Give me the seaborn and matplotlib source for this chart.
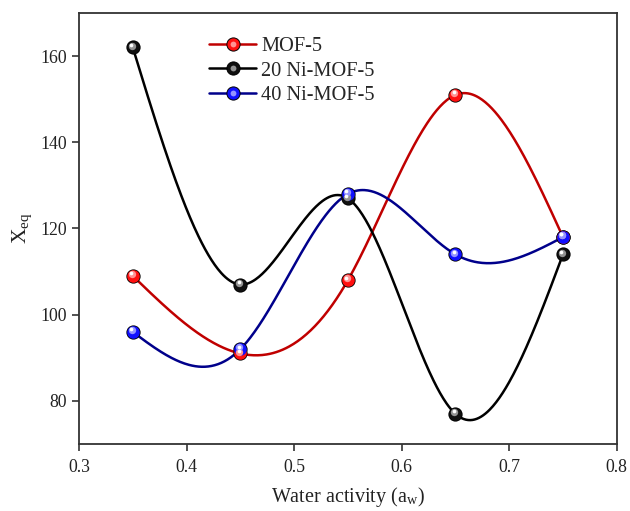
import numpy as np
import pandas as pd
import matplotlib
matplotlib.use("Agg")
import matplotlib.pyplot as plt
import matplotlib.transforms as mtransforms
from matplotlib.lines import Line2D
from matplotlib.legend_handler import HandlerTuple
import seaborn as sns

# Water activity levels and equilibrium moisture values
water_activity = [0.35, 0.45, 0.55, 0.65, 0.75]
mof5 = [109, 91, 108, 151, 118]
ni20_mof5 = [162, 107, 127, 77, 114]
ni40_mof5 = [96, 92, 128, 114, 118]

series_names = ["MOF-5", "20 Ni-MOF-5", "40 Ni-MOF-5"]
series_values = [mof5, ni20_mof5, ni40_mof5]
line_colors = ["#c00000", "#000000", "#00008b"]
marker_colors = ["#ff1010", "#101010", "#1010ff"]


def natural_spline(x, y, xs):
    """Natural cubic spline through (x, y), evaluated at xs."""
    x = np.asarray(x, float)
    y = np.asarray(y, float)
    n = len(x)
    h = np.diff(x)
    A = np.zeros((n, n))
    b = np.zeros(n)
    A[0, 0] = A[-1, -1] = 1.0
    for i in range(1, n - 1):
        A[i, i - 1] = h[i - 1]
        A[i, i] = 2 * (h[i - 1] + h[i])
        A[i, i + 1] = h[i]
        b[i] = 3 * ((y[i + 1] - y[i]) / h[i] - (y[i] - y[i - 1]) / h[i - 1])
    c = np.linalg.solve(A, b)
    out = np.empty_like(xs)
    idx = np.clip(np.searchsorted(x, xs) - 1, 0, n - 2)
    for k, (xv, i) in enumerate(zip(xs, idx)):
        bi = (y[i + 1] - y[i]) / h[i] - h[i] * (2 * c[i] + c[i + 1]) / 3
        di = (c[i + 1] - c[i]) / (3 * h[i])
        dx = xv - x[i]
        out[k] = y[i] + bi * dx + c[i] * dx ** 2 + di * dx ** 3
    return out


sns.set_theme(style="ticks")
plt.rcParams["font.family"] = ["Liberation Serif", "DejaVu Serif"]
plt.rcParams["mathtext.fontset"] = "stix"

fig = plt.figure(figsize=(6.3, 5.11), dpi=100)
ax = fig.add_axes([0.1254, 0.1311, 0.8536, 0.8435])

xs = np.linspace(water_activity[0], water_activity[-1], 400)
curves = pd.DataFrame(
    {
        "aw": np.tile(xs, 3),
        "X": np.concatenate([natural_spline(water_activity, v, xs) for v in series_values]),
        "sample": np.repeat(series_names, len(xs)),
    }
)
points = pd.DataFrame(
    {
        "aw": np.tile(water_activity, 3),
        "X": np.concatenate(series_values),
        "sample": np.repeat(series_names, len(water_activity)),
    }
)

sns.lineplot(
    data=curves, x="aw", y="X", hue="sample", palette=dict(zip(series_names, line_colors)),
    linewidth=1.8, legend=False, ax=ax, sort=False, estimator=None, units="sample",
)

# Shaded spheres: a dark rim, the body colour, then lighter inner layers offset towards the highlight
hl_transform = mtransforms.offset_copy(ax.transData, fig=fig, x=-0.8, y=1.3, units="points")
hl_transform2 = mtransforms.offset_copy(ax.transData, fig=fig, x=-1.1, y=1.9, units="points")
for name, mc in zip(series_names, marker_colors):
    sub = points[points["sample"] == name]
    sns.scatterplot(data=sub, x="aw", y="X", color="#000000", s=105, linewidth=0, ax=ax, zorder=4, legend=False)
    sns.scatterplot(data=sub, x="aw", y="X", color=mc, s=82, linewidth=0, ax=ax, zorder=5, legend=False)
    light = np.array(matplotlib.colors.to_rgb(mc)) * 0.45 + 0.55
    ax.scatter(sub["aw"], sub["X"], s=28, color=light, linewidth=0, zorder=6, transform=hl_transform)
    ax.scatter(sub["aw"], sub["X"], s=7, color="white", linewidth=0, zorder=7, transform=hl_transform2)

ax.set_xlim(0.3, 0.8)
ax.set_ylim(70, 170)
ax.set_xticks([0.3, 0.4, 0.5, 0.6, 0.7, 0.8])
ax.set_xticklabels(["0.3", "0.4", "0.5", "0.6", "0.7", "0.8"])
ax.set_yticks([80, 100, 120, 140, 160])
ax.tick_params(axis="both", direction="out", length=5, width=1.2, labelsize=12.8, colors="#333333",
               labelcolor="#222222", top=False, right=False)
ax.tick_params(axis="x", pad=6)
for sp in ax.spines.values():
    sp.set_linewidth(1.3)
    sp.set_color("#333333")

ax.set_xlabel(r"Water activity (a$_\mathregular{w}$)", fontsize=14.5, color="#222222", labelpad=6)
ax.set_ylabel(r"X$_\mathregular{eq}$", fontsize=15.5, color="#222222", labelpad=5)

handles = []
for name, lc, mc in zip(series_names, line_colors, marker_colors):
    light = np.array(matplotlib.colors.to_rgb(mc)) * 0.45 + 0.55
    handles.append((
        Line2D([], [], color=lc, lw=1.8, marker="o", markersize=9.5, markerfacecolor=mc,
               markeredgecolor="#000000", markeredgewidth=0.7),
        Line2D([], [], lw=0, marker="o", markersize=4.2, markerfacecolor=light, markeredgewidth=0),
    ))
ax.legend(handles, series_names, loc="upper left", bbox_to_anchor=(0.208, 0.988), frameon=False,
          fontsize=14.7, handlelength=2.3, handletextpad=0.25, labelspacing=0.27,
          handler_map={tuple: HandlerTuple(ndivide=1)})

fig.savefig("out.png", dpi=100)
